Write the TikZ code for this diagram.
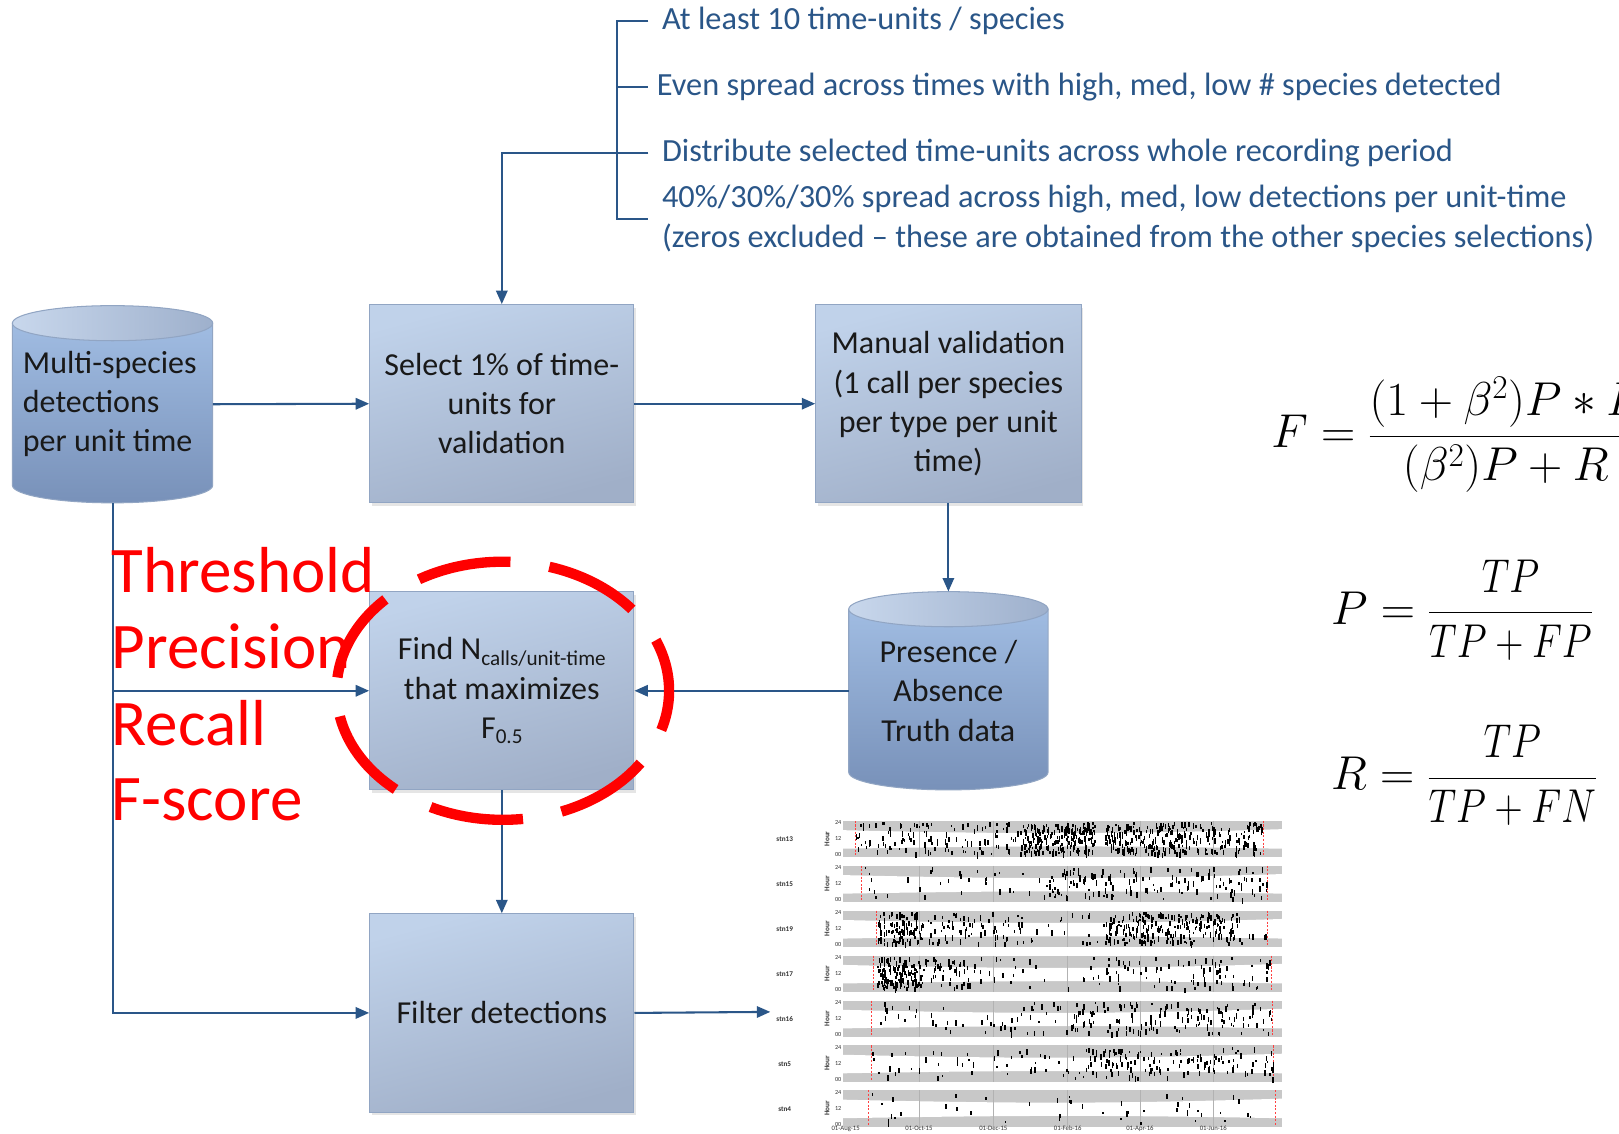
\RequirePackage{fix-cm}
\documentclass[tikz,border=0pt]{standalone}
\usepackage{amsmath}
\usepackage[no-math]{fontspec}
\setmainfont{Carlito}
\usetikzlibrary{arrows.meta,shadows,calc}

\definecolor{boxtop}{RGB}{192,210,234}
\definecolor{boxbot}{RGB}{160,175,200}
\definecolor{boxedge}{RGB}{145,165,195}
\definecolor{cyltop}{RGB}{160,188,226}
\definecolor{cylbot}{RGB}{120,145,185}
\definecolor{capl}{RGB}{200,215,236}
\definecolor{capr}{RGB}{158,176,204}
\definecolor{linkc}{RGB}{42,86,136}
\definecolor{txt}{RGB}{25,25,25}
\definecolor{pgray}{RGB}{200,200,200}

\newcommand\boxfont{\fontsize{31}{38}\selectfont}
\newcommand\notefont{\fontsize{31.3}{38}\selectfont}
\newcommand\redfont{\fontsize{63}{74}\selectfont}
\newcommand\eqfont{\fontsize{46}{55}\selectfont}
\newcommand\smallsub[1]{\raisebox{-5pt}{\fontsize{20.5}{22}\selectfont #1}}

\newcommand\plotmarks[4]{%
  \foreach \k in {1,...,#4}{%
    \pgfmathsetmacro\mx{#2+rnd*(#3-#2)}%
    \pgfmathsetmacro\my{#1+1+rnd*30}%
    \pgfmathsetmacro\mh{2+rnd*4}%
    \fill[black] (\mx,\my) rectangle ++(1.4,\mh);
  }%
}

\newcommand\stnpanel[4]{%
  \fill[pgray] (816,#1) rectangle (1242,#1+35);
  \fill[white] (816,#1+9) .. controls (990,#1+13) and (1080,#1+13) .. (1242,#1+8)
     -- (1242,#1+27) .. controls (1080,#1+24) and (990,#1+24) .. (816,#1+27) -- cycle;
  \foreach \gx in {890,962,1034,1104,1175}{\draw[gray!60, line width=0.4pt] (\gx,#1) -- (\gx,#1+35);}
  \draw[red!75, dash pattern=on 2pt off 1.5pt, line width=0.5pt] (#3,#1) -- (#3,#1+35) (#4,#1) -- (#4,#1+35);
  \node[plotlab] at (760,#1+18) {#2};
  \node[plotlab, rotate=90] at (801,#1+17.5) {Hour};
  \node[ticklab] at (815,#1+2) {24};
  \node[ticklab] at (815,#1+17.5) {12};
  \node[ticklab] at (815,#1+33) {00};
}

\begin{document}
\begin{tikzpicture}[x=1pt,y=-1pt,
  proc/.style={draw=boxedge, line width=1pt, top color=boxtop, bottom color=boxbot,
     shading angle=15, minimum width=256pt, minimum height=192pt, inner sep=0pt,
     align=center, font=\boxfont, text=txt,
     drop shadow={shadow xshift=2pt, shadow yshift=-3pt, opacity=0.2}},
  cylbody/.style={top color=cyltop, bottom color=cylbot, draw=boxedge, line width=1pt},
  cylcap/.style={left color=capl, right color=capr, draw=boxedge, line width=1pt},
  cyltext/.style={inner sep=0pt, font=\boxfont, text=txt},
  conn/.style={draw=linkc, line width=2pt, -{Triangle[length=13pt,width=11pt]}},
  link/.style={draw=linkc, line width=2pt},
  note/.style={anchor=west, inner ysep=0pt, font=\notefont, text=linkc, align=left},
  redlab/.style={anchor=west, inner sep=0pt, font=\redfont, text=red},
  redring/.style={draw=red, line width=10pt, dash pattern=on 91pt off 38pt, dash phase=52pt},
  plotlab/.style={inner sep=0pt, font=\fontsize{7}{8}\selectfont\bfseries, text=black!80},
  ticklab/.style={anchor=east, inner sep=0pt, font=\fontsize{6}{7}\selectfont, text=black!80},
  eq/.style={anchor=west, inner sep=0pt, font=\eqfont}
]
\useasboundingbox (0,0) rectangle (1568,1098);
\fill[white] (0,0) rectangle (1568,1098);

% ---------- cylinders ----------
\path[cylbody] (12,313) -- (12,470) arc[start angle=180, end angle=0, x radius=97, y radius=17] -- (206,313) -- cycle;
\path[cylcap] (109,313) ellipse[x radius=97, y radius=17];
\node[cyltext, minimum width=194pt, minimum height=191pt] (ms) at (109,391.5) {};
\node[cyltext, align=left, anchor=west] (mstext) at (22,391) {Multi-species\\detections\\per unit time};

\path[cylbody] (822,590) -- (822,748) arc[start angle=180, end angle=0, x radius=96.5, y radius=17] -- (1015,590) -- cycle;
\path[cylcap] (918.5,590) ellipse[x radius=96.5, y radius=17];
\node[cyltext, align=center, minimum width=193pt, minimum height=192pt] (pa) at (918.5,669) {Presence /\\Absence\\Truth data};

% ---------- process boxes ----------
\node[proc] (sel) at (486,391) {Select 1\% of time-\\units for\\validation};
\node[proc, minimum width=257pt] (man) at (918.5,391) {Manual validation\\(1 call per species\\per type per unit\\time)};
\node[proc] (find) at (486,669) {Find N\smallsub{calls/unit-time}\\that maximizes\\F\smallsub{0.5}};
\node[proc] (filt) at (486,981) {Filter detections};

% ---------- criteria bracket ----------
\coordinate (bk) at (598,0);
\node[note, inner xsep=13pt] (n1) at (628,20) {At least 10 time-units / species};
\node[note, inner xsep=8pt] (n2) at (628,84) {Even spread across times with high, med, low \# species detected};
\node[note, inner xsep=13pt] (n3) at (628,148) {Distribute selected time-units across whole recording period};
\node[note, inner xsep=13pt] (n4) at (628,212) {40\%/30\%/30\% spread across high, med, low detections per unit-time\\(zeros excluded -- these are obtained from the other species selections)};
\draw[link] (n1.west) -- (bk |- n1.west) -- (bk |- n4.west) -- (n4.west);
\draw[link] (bk |- n2.west) -- (n2.west);
\draw[conn] (n3.west) -| (sel.north);

% ---------- connectors ----------
\coordinate (plotin) at (746,980);
\draw[conn] (ms.east) -- (sel.west);
\draw[conn] (sel.east) -- (man.west);
\draw[conn] (man.south) -- (pa.north);
\draw[conn] (pa.west) -- (find.east);
\draw[conn] (find.south) -- (filt.north);
\draw[conn] (filt.east) -- (plotin);
\draw[conn] (ms.south) |- (filt.west);
\draw[conn] (ms.south |- find.west) -- (find.west);

% ---------- red labels ----------
\node[redlab] (r1) at (108,552) {Threshold};
\node[redlab] (r2) at (108,626) {Precision};
\node[redlab] (r3) at (108,700) {Recall};
\node[redlab] (r4) at (108,775) {F-score};
\draw[redring] (487,669) ellipse[x radius=161, y radius=125];

% ---------- formulas ----------
\begin{scope}
\clip (0,0) rectangle (1568,1098);
\node[eq] (fF) at (1231,421) {$F=\dfrac{(1+\beta^2)P\ast R}{(\beta^2)P+R}$};
\end{scope}
\node[eq] (fP) at (1289,591) {$P={}$\scalebox{0.82}[1]{$\dfrac{TP}{TP+FP}$}};
\node[eq] (fR) at (1289,751) {$R={}$\scalebox{0.82}[1]{$\dfrac{TP}{TP+FN}$}};

% ---------- detection plot ----------
\pgfmathsetseed{4242}
\stnpanel{795}{stn13}{828}{1223}
\plotmarks{795}{828}{990}{120}
\plotmarks{795}{990}{1060}{210}
\plotmarks{795}{1070}{1185}{230}
\plotmarks{795}{1185}{1222}{50}

\stnpanel{838.5}{stn15}{834}{1227}
\plotmarks{838.5}{834}{1010}{30}
\plotmarks{838.5}{1010}{1100}{80}
\plotmarks{838.5}{1100}{1227}{70}

\stnpanel{882}{stn19}{849}{1227}
\plotmarks{882}{849}{892}{100}
\plotmarks{882}{892}{1000}{80}
\plotmarks{882}{1000}{1068}{15}
\plotmarks{882}{1068}{1200}{230}
\plotmarks{882}{1200}{1227}{6}

\stnpanel{925.5}{stn17}{846}{1231}
\plotmarks{925.5}{849}{890}{130}
\plotmarks{925.5}{890}{940}{50}
\plotmarks{925.5}{940}{1060}{25}
\plotmarks{925.5}{1060}{1231}{85}

\stnpanel{969}{stn16}{844}{1232}
\plotmarks{969}{844}{1030}{50}
\plotmarks{969}{1030}{1232}{140}

\stnpanel{1012.5}{stn5}{844}{1233}
\plotmarks{1012.5}{844}{1050}{50}
\plotmarks{1012.5}{1050}{1233}{140}

\stnpanel{1056}{stn4}{841}{1235}
\plotmarks{1056}{841}{1235}{45}

\foreach \lx/\lt in {819/01-Aug-15, 890/01-Oct-15, 962/01-Dec-15, 1034/01-Feb-16, 1104/01-Apr-16, 1175/01-Jun-16}{
  \node[inner sep=0pt, font=\fontsize{6.5}{7}\selectfont, text=black!80] at (\lx,1093) {\lt};
}
\end{tikzpicture}
\end{document}
